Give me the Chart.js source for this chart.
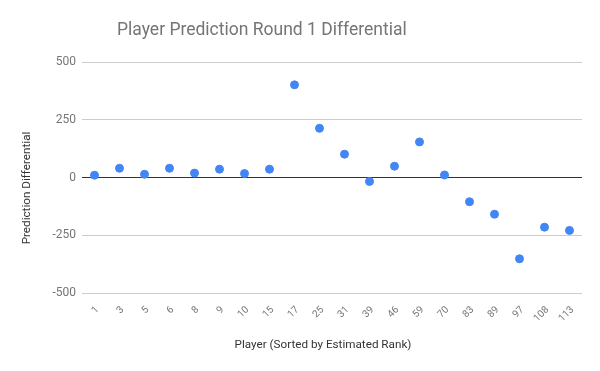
<!DOCTYPE html>
<html>
<head>
<meta charset="utf-8">
<script src="https://cdn.jsdelivr.net/npm/chart.js@4"></script>
<style>
  html,body{margin:0;padding:0;background:#fff}
  #wrap{width:600px;height:371px}
</style>
</head>
<body>
<div id="wrap"><canvas id="c" width="600" height="371"></canvas></div>
<script>
var chartTitle = "Player Prediction Round 1 Differential"
var xTitle = "Player (Sorted by Estimated Rank)"
var yTitle = "Prediction Differential"

// players, sorted by estimated rank
var players = ["1","3","5","6","8","9","10","15","17","25","31","39","46","59","70","83","89","97","108","113"]
// prediction differential for each player
var differential = [10,40,14,40,19,36,17,36,401,213,101,-17,49,154,11,-105,-159,-352,-215,-229]
var yTicks = [-500,-250,0,250,500]

// titles drawn by hand: the original doesn't centre them on the plot area
var titlePlugin = {
    id: "titles",
    afterDraw: function(chart){
        var ctx = chart.ctx
        ctx.save()
        ctx.textBaseline = "middle"
        ctx.font = "17.5px Roboto"
        ctx.fillStyle = "#757575"
        ctx.textAlign = "left"
        ctx.fillText(chartTitle, 117, 31)

        ctx.font = "11.7px Roboto"
        ctx.fillStyle = "#333"
        ctx.textAlign = "center"
        ctx.fillText(xTitle, 323, 345)

        ctx.translate(27, 188)
        ctx.rotate(-Math.PI/2)
        ctx.fillText(yTitle, 0, 0)
        ctx.restore()
    }
}

new Chart(document.getElementById("c"), {
    type: "line",
    data: {
        labels: players,
        datasets: [{
            data: differential,
            showLine: false,
            pointRadius: 4,
            pointHoverRadius: 4,
            pointBackgroundColor: "#4285f4",
            pointBorderColor: "#4285f4",
            pointBorderWidth: 1
        }]
    },
    options: {
        responsive: false,
        animation: false,
        layout: { padding: { top: 62, right: 18, left: 0, bottom: 0 } },
        plugins: {
            legend: { display: false },
            tooltip: { enabled: false }
        },
        scales: {
            x: {
                offset: true,
                grid: { display: false },
                border: { display: false },
                ticks: {
                    autoSkip: false,
                    minRotation: 45,
                    maxRotation: 45,
                    labelOffset: 3,
                    color: "#757575",
                    font: { family: "Roboto", size: 10 }
                },
                afterFit: function(s){ s.height = 78 }
            },
            y: {
                min: -500,
                max: 500,
                afterBuildTicks: function(s){ s.ticks = yTicks.map(function(v){ return {value: v} }) },
                grid: {
                    drawTicks: false,
                    color: function(c){ return c.tick && c.tick.value === 0 ? "#333" : "#ccc" }
                },
                border: { display: false },
                ticks: {
                    padding: 6,
                    color: "#757575",
                    font: { family: "Roboto", size: 12 }
                },
                afterFit: function(s){ s.width = 82 }
            }
        }
    },
    plugins: [titlePlugin]
});
</script>
</body>
</html>
